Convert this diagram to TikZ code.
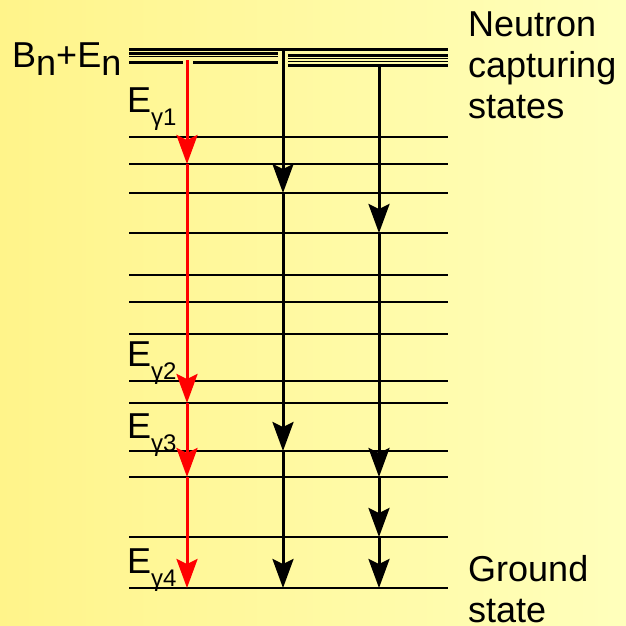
\documentclass[tikz,border=0pt]{standalone}
\usepackage{fontspec}
\setmainfont{Liberation Sans}
\usetikzlibrary{arrows.meta}

\definecolor{bgleft}{RGB}{255,244,138}
\definecolor{bgmid}{RGB}{255,253,158}
\definecolor{bgright}{RGB}{255,255,188}

\newcommand{\gsub}[1]{\raisebox{-13pt}{\fontsize{24}{24}\selectfont #1}}
\newcommand{\nsub}[1]{\raisebox{-8pt}{#1}}

\begin{document}
\begin{tikzpicture}[
    x=1pt, y=-1pt,
    lvl/.style={line width=2.8pt},
    band/.style={line width=3pt},
    fine/.style={line width=1.2pt},
    gam/.style={red, line width=3pt, -{Stealth[length=29pt, width=21pt, inset=5pt]}},
    cas/.style={black, line width=3pt, -{Stealth[length=29pt, width=21pt, inset=5pt]}},
    lbl/.style={font=\fontsize{36}{41}\selectfont, inner sep=0pt, align=left, anchor=base west},
    elbl/.style={font=\fontsize{36}{36}\selectfont, inner sep=0pt, anchor=base west}
]

% ---------- Background ----------
\shade[left color=bgleft, middle color=bgmid, right color=bgright] (0,0) rectangle (626,625);
\useasboundingbox (0,0) rectangle (626,625);

% ---------- Levels ----------
\foreach \y [count=\i] in {137,164,193,233,275,302,334,381,403,451,477,537,588}
    \draw[lvl] (129,\y) coordinate (lv\i) -- (448,\y);

% ---------- Capturing states (dense band) ----------
\draw[band] (129,49.3) coordinate (cap) -- (448,49.3);
\draw[band] (129,53.5) -- (278,53.5);
\draw[fine] (129,56.6) -- (278,56.6);
\draw[line width=3.5pt] (129,62.5) -- (183,62.5);
\draw[line width=3.5pt] (193,62.5) -- (278,62.5);
\draw[band] (288,55) -- (448,55);
\draw[fine] (288,58.8) -- (448,58.8);
\draw[fine] (288,61.2) -- (448,61.2);
\draw[band] (288,65) -- (448,65);

% ---------- Start points ----------
\coordinate (rs) at (187,60);
\coordinate (ms) at (283,48);
\coordinate (ts) at (379,66.5);

% ---------- Red cascade ----------
\draw[gam] (rs) -- (rs |- lv2);
\draw[gam] (rs |- lv2) -- (rs |- lv9);
\draw[gam] (rs |- lv9) -- (rs |- lv11);
\draw[gam] (rs |- lv11) -- (rs |- lv13);

% ---------- Other cascades ----------
\draw[cas] (ms) -- (ms |- lv3);
\draw[cas] (ms |- lv3) -- (ms |- lv10);
\draw[cas] (ms |- lv10) -- (ms |- lv13);

\draw[cas] (ts) -- (ts |- lv4);
\draw[cas] (ts |- lv4) -- (ts |- lv11);
\draw[cas] (ts |- lv11) -- (ts |- lv12);
\draw[cas] (ts |- lv12) -- (ts |- lv13);

% ---------- Labels ----------
\node[lbl] (bnen) at (12,67) {B\nsub{n}+E\nsub{n}};
\node[lbl] (capt) at (468,118) {Neutron\\capturing\\states};
\node[lbl] (gnd)  at (468,622) {Ground\\state};

\node[elbl] (eg1) at (127,112) {E\gsub{γ1}};
\node[elbl] (eg2) at (127,366) {E\gsub{γ2}};
\node[elbl] (eg3) at (127,438) {E\gsub{γ3}};
\node[elbl] (eg4) at (127,573) {E\gsub{γ4}};

\end{tikzpicture}
\end{document}
